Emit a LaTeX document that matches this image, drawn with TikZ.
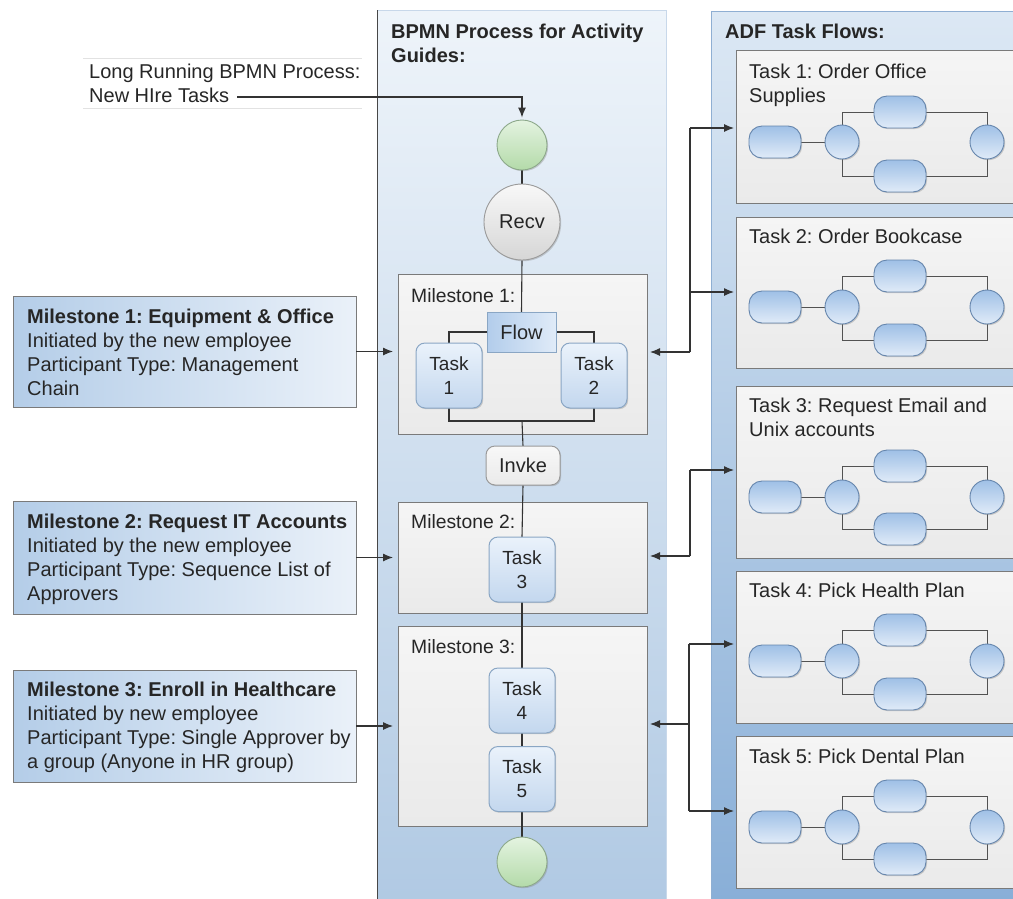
\documentclass[tikz,border=0pt]{standalone}
\usepackage{fontspec}
\setmainfont{Liberation Sans}
\usetikzlibrary{arrows.meta,shadows}
\pgfdeclarelayer{back}
\pgfdeclarelayer{lines}
\pgfsetlayers{back,lines,main}
\definecolor{lin}{HTML}{333333}
\definecolor{txt}{HTML}{262626}
\definecolor{midtop}{HTML}{EEF4FA}
\definecolor{midbot}{HTML}{B0C9E3}
\definecolor{midbord}{HTML}{C8D8EA}
\definecolor{rtop}{HTML}{DCE8F4}
\definecolor{rbot}{HTML}{88AED7}
\definecolor{rbord}{HTML}{8FAFD3}
\definecolor{gtop}{HTML}{F5F5F5}
\definecolor{gbot}{HTML}{EAEAEA}
\definecolor{gbord}{HTML}{7A7A7A}
\definecolor{ttop}{HTML}{EAF2FB}
\definecolor{tbot}{HTML}{C3D7EE}
\definecolor{tbord}{HTML}{8AA6C4}
\definecolor{ptop}{HTML}{9FC0E6}
\definecolor{pbot}{HTML}{E0EBF8}
\definecolor{pbord}{HTML}{6585AC}
\definecolor{lleft}{HTML}{B4CDE8}
\definecolor{lright}{HTML}{EAF1F9}
\definecolor{grtop}{HTML}{E4F3E0}
\definecolor{grbot}{HTML}{B3DAA9}
\definecolor{grbord}{HTML}{8CA88A}
\definecolor{rvtop}{HTML}{F8F8F8}
\definecolor{rvbot}{HTML}{D6D6D6}
\definecolor{cbord}{HTML}{9A9A9A}
\definecolor{ruleg}{HTML}{E2E2E2}
\newcommand\mystrut{\rule{0pt}{15pt}}
\frenchspacing
\begin{document}
\begin{tikzpicture}[x=1pt,y=-1pt,
  every node/.style={font=\fontsize{20}{24}\selectfont, text=txt},
  sz/.style 2 args={rectangle, minimum width=#1, minimum height=#2, inner sep=0pt, outer sep=0pt},
  conn/.style={draw=lin, line width=1.1pt},
  arr/.style={conn, -{Latex[length=10pt,width=8pt]}},
  shd/.style={drop shadow={shadow xshift=1.2pt, shadow yshift=-1.2pt, opacity=0.35}},
  gbox/.style={top color=gtop, bottom color=gbot, draw=gbord, line width=1pt, shd},
  lbox/.style={left color=lleft, right color=lright, draw=gbord, line width=0.8pt, shd},
  small/.style={rounded corners=9pt, top color=ttop, bottom color=tbot, draw=tbord, line width=1pt, shd, align=center, font=\fontsize{19}{24}\selectfont},
  pill/.style={sz={52}{32}, rounded corners=13pt, top color=ptop, bottom color=pbot, draw=pbord, line width=0.9pt, shd},
  gw/.style={circle, minimum size=34pt, inner sep=0pt, top color=ptop, bottom color=pbot, draw=pbord, line width=0.9pt, shd},
  label/.style={anchor=north west, inner sep=0pt, align=left},
  mlabel/.style={label, font=\fontsize{19.3}{24}\selectfont},
  flowl/.style={draw=lin!85, line width=1pt}
]
\useasboundingbox (0,0) rectangle (1013,898);
\clip (0,0) rectangle (1013,898);

\begin{pgfonlayer}{back}
  % columns
  \node[sz={289}{900}, top color=midtop, bottom color=midbot, draw=midbord, line width=0.8pt] (midcol) at (521.5,460) {};
  \draw[draw=lin!90, line width=1pt] (midcol.north west) -- (midcol.south west);
  \node[sz={329}{900}, top color=rtop, bottom color=rbot, draw=rbord, line width=1pt] (rcol) at (875.5,461) {};
  % milestone containers
  \node[sz={249}{160}, gbox] (M1) at (522.5,354) {};
  \node[sz={249}{111}, gbox] (M2) at (522.5,557.5) {};
  \node[sz={249}{200}, gbox] (M3) at (522.5,726) {};
  % ADF task flow containers
  \node[sz={304}{153}, gbox] (T1) at (888,126.5) {};
  \node[sz={304}{151}, gbox] (T2) at (888,292.5) {};
  \node[sz={304}{172}, gbox] (T3) at (888,472) {};
  \node[sz={304}{152}, gbox] (T4) at (888,647) {};
  \node[sz={304}{152}, gbox] (T5) at (888,812) {};
  % left milestone descriptions
  \node[sz={343}{111}, lbox] (L1) at (184.5,351.5) {};
  \node[sz={343}{113}, lbox] (L2) at (184.5,557.5) {};
  \node[sz={343}{112}, lbox] (L3) at (184.5,726) {};
  % rules round the process label
  \draw[ruleg, line width=0.8pt] (83,58) -- (362,58);
  \draw[ruleg, line width=0.8pt] (83,108) -- (362,108);
\end{pgfonlayer}

% titles and labels
\node[label] (lrtxt) at (89,63) {\mystrut Long Running BPMN Process:\\New HIre Tasks};
\coordinate (lrstart) at (237,97);
\node[label] (midtitle) at (391,23) {\mystrut\textbf{BPMN Process for Activity}\\\textbf{Guides:}};
\node[label] (rtitle) at (725,23) {\mystrut\textbf{ADF Task Flows:}};
\node[mlabel] (m1lab) at (411,287) {\mystrut Milestone 1:};
\node[mlabel] (m2lab) at (411,513) {\mystrut Milestone 2:};
\node[mlabel] (m3lab) at (411,638) {\mystrut Milestone 3:};
\node[label] (t1lab) at (749,63) {\mystrut Task 1: Order Office\\Supplies};
\node[label] (t2lab) at (749,228) {\mystrut Task 2: Order Bookcase};
\node[label] (t3lab) at (749,397) {\mystrut Task 3: Request Email and\\Unix accounts};
\node[label] (t4lab) at (749,582) {\mystrut Task 4: Pick Health Plan};
\node[label] (t5lab) at (749,748) {\mystrut Task 5: Pick Dental Plan};
\node[label] (l1txt) at (27,308) {\mystrut\textbf{Milestone 1: Equipment \& Office}\\Initiated by the new employee\\Participant Type: Management\\Chain};
\node[label] (l2txt) at (27,513) {\mystrut\textbf{Milestone 2: Request IT Accounts}\\Initiated by the new employee\\Participant Type: Sequence List of\\Approvers};
\node[label] (l3txt) at (27,681) {\mystrut\textbf{Milestone 3: Enroll in Healthcare}\\Initiated by new employee\\Participant Type: Single Approver by\\a group (Anyone in HR group)};

% BPMN process nodes
\node[circle, minimum size=50pt, inner sep=0pt, top color=grtop, bottom color=grbot, draw=grbord, line width=0.9pt, shd] (start) at (522,145) {};
\node[circle, minimum size=76pt, inner sep=0pt, top color=rvtop, bottom color=rvbot, draw=cbord, line width=0.9pt, shd] (recv) at (522,222) {Recv};
\node[sz={69}{40}, left color=ptop!80, right color=pbot, draw=tbord, line width=1pt, shd] (flow) at (521.5,332) {Flow};
\node[sz={66}{65}, small] (tk1) at (449,375.5) {Task\\1};
\node[sz={66}{65}, small] (tk2) at (594,375.5) {Task\\2};
\node[sz={74}{39}, rounded corners=9pt, top color=rvtop, bottom color=gbot, draw=cbord, line width=1pt, shd] (invke) at (523,465.5) {Invke};
\node[sz={66}{65}, small] (tk3) at (522,569.5) {Task\\3};
\node[sz={66}{65}, small] (tk4) at (522,700.5) {Task\\4};
\node[sz={66}{65}, small] (tk5) at (522,779) {Task\\5};
\node[circle, minimum size=50pt, inner sep=0pt, top color=grtop, bottom color=grbot, draw=grbord, line width=0.9pt, shd] (end) at (522,862) {};
\coordinate (m1join) at (522,421);

% ADF task flow contents
\foreach \i/\cy/\ty/\by in {1/142/112/176,2/307/276/340,3/497/466/529,4/661/630/694,5/827/796/859}{
  \node[pill] (s\i) at (775,\cy) {};
  \node[gw] (g\i) at (842,\cy) {};
  \node[pill] (u\i) at (900,\ty) {};
  \node[pill] (d\i) at (900,\by) {};
  \node[gw] (e\i) at (987,\cy) {};
}

\begin{pgfonlayer}{lines}
  \foreach \i in {1,...,5}{
    \draw[flowl] (s\i.east) -- (g\i.west);
    \draw[flowl] (g\i.north) |- (u\i.west);
    \draw[flowl] (u\i.east) -| (e\i.north);
    \draw[flowl] (g\i.south) |- (d\i.west);
    \draw[flowl] (d\i.east) -| (e\i.south);
  }
  % process flow
  \draw[arr] (lrstart) -| ([yshift=2pt]start.north);
  \draw[conn] (start.south) -- (recv.north);
  \draw[conn] (recv.south) -- (flow.north);
  \draw[conn] (flow.west) -| (tk1.north);
  \draw[conn] (flow.east) -| (tk2.north);
  \draw[conn] (tk1.south) |- (m1join) -| (tk2.south);
  \draw[conn] (m1join) -- (invke.north);
  \draw[conn] (invke.south) -- (tk3.north);
  \draw[conn] (tk3.south) -- (tk4.north);
  \draw[conn] (tk4.south) -- (tk5.north);
  \draw[conn] (tk5.south) -- (end.north);
  % left descriptions to milestones
  \draw[arr, shorten >=5pt] (L1.east) -- (L1.east -| M1.west);
  \draw[arr, shorten >=5pt] (L2.east) -- (L2.east -| M2.west);
  \draw[arr, shorten >=5pt] (L3.east) -- (L3.east -| M3.west);
  % milestones to ADF task flows
  \coordinate (r1a) at (690,128);
  \coordinate (r1b) at (690,292);
  \coordinate (r1c) at (690,352);
  \draw[conn] (r1a) -- (r1c);
  \draw[arr, shorten >=2pt] (r1a) -- (r1a -| T1.west);
  \draw[arr, shorten >=2pt] (r1b) -- (r1b -| T2.west);
  \draw[arr, shorten >=3pt] (r1c) -- (r1c -| M1.east);
  \coordinate (r2a) at (690,470);
  \coordinate (r2c) at (690,556);
  \draw[conn] (r2a) -- (r2c);
  \draw[arr, shorten >=2pt] (r2a) -- (r2a -| T3.west);
  \draw[arr, shorten >=3pt] (r2c) -- (r2c -| M2.east);
  \coordinate (r3a) at (689,644);
  \coordinate (r3b) at (689,811);
  \coordinate (r3c) at (689,724);
  \draw[conn] (r3a) -- (r3b);
  \draw[arr, shorten >=2pt] (r3a) -- (r3a -| T4.west);
  \draw[arr, shorten >=2pt] (r3b) -- (r3b -| T5.west);
  \draw[arr, shorten >=3pt] (r3c) -- (r3c -| M3.east);
\end{pgfonlayer}
\end{tikzpicture}
\end{document}
